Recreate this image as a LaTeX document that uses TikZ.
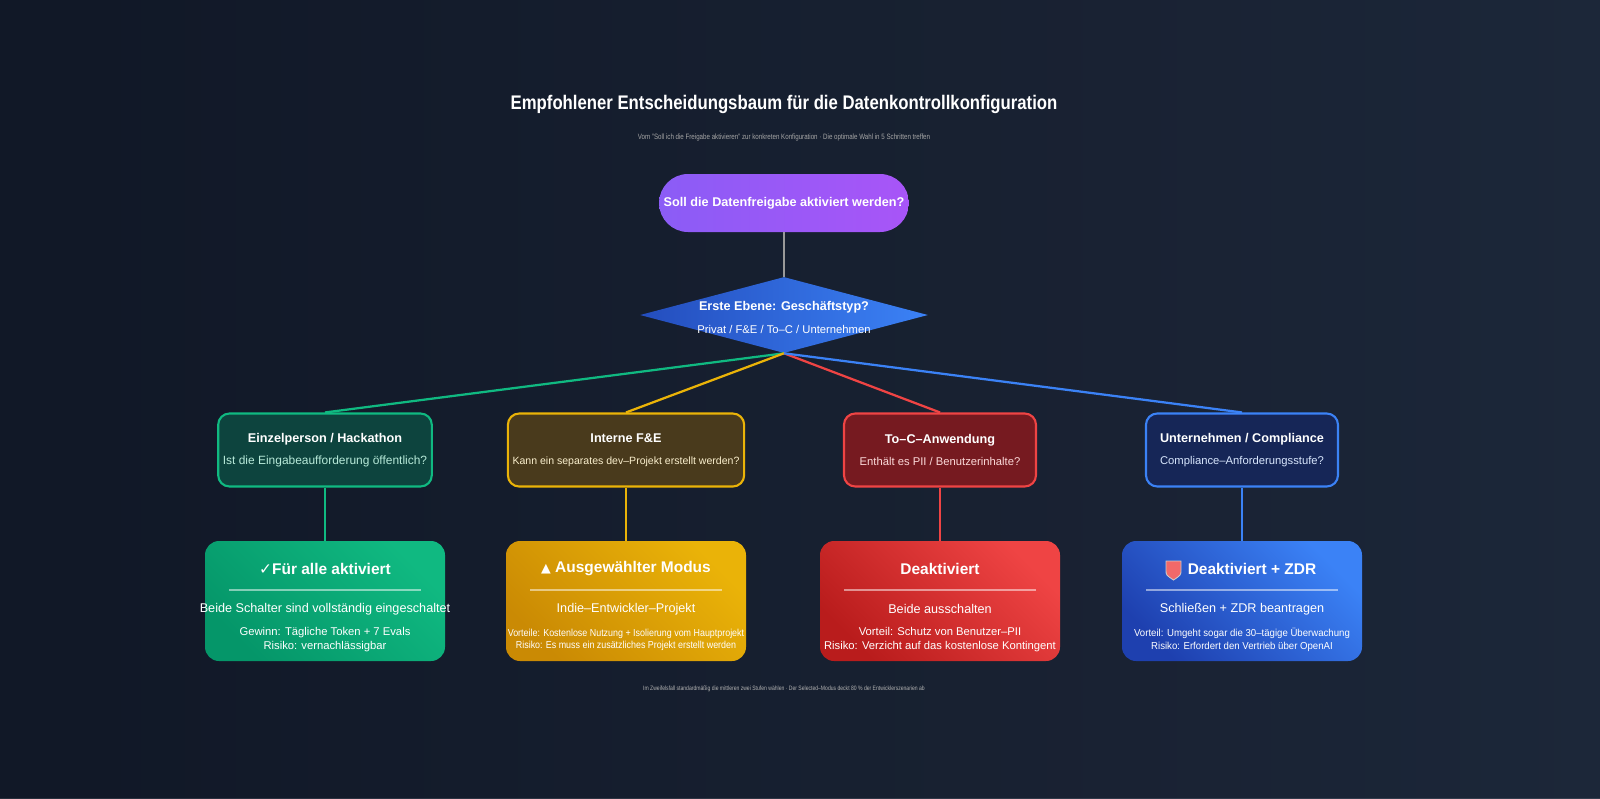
\documentclass[tikz,border=0pt]{standalone}
\usepackage{fontspec}
\setmainfont{Liberation Sans}
\newfontfamily\symfont{DejaVu Sans}
\usetikzlibrary{positioning,shapes.geometric}
\definecolor{bgA}{HTML}{111827}
\definecolor{bgB}{HTML}{1E293B}
\definecolor{greenE}{HTML}{10B981}
\definecolor{greenD}{HTML}{059669}
\definecolor{yellowE}{HTML}{EAB308}
\definecolor{yellowD}{HTML}{CA8A04}
\definecolor{redE}{HTML}{EF4444}
\definecolor{redD}{HTML}{B91C1C}
\definecolor{blueE}{HTML}{3B82F6}
\definecolor{blueD}{HTML}{1E40AF}
\definecolor{purpleA}{HTML}{8B5CF6}
\definecolor{purpleB}{HTML}{A855F7}
\tikzset{
    question/.style={draw, line width=1.5pt, rounded corners=8pt, minimum width=192*0.025cm,
        minimum height=73*0.025cm, align=center, text=white, font=\fontsize{9}{13}\selectfont},
    result/.style={rounded corners=10pt, minimum width=240*0.025cm, minimum height=120*0.025cm},
    link/.style={line width=1.6pt},
    small/.style={text=white, font=\fontsize{7.2}{9}\selectfont}
}
\begin{document}
\begin{tikzpicture}[x=0.025cm,y=-0.025cm]
\path[use as bounding box] (0,0) rectangle (1600,798);
\fill[bgA] (0,0) rectangle (1600,798);
\shade[left color=bgA, right color=bgB, opacity=0.9] (0,0) rectangle (1600,798);
% heading
\node[text=white, font=\bfseries\fontsize{14}{16}\selectfont, xscale=0.85] (title) at (784,104)
    {Empfohlener Entscheidungsbaum für die Datenkontrollkonfiguration};
\node[text=gray!70, font=\fontsize{5.5}{6}\selectfont, xscale=0.8] (sub) at (784,137)
    {Vom "Soll ich die Freigabe aktivieren" zur konkreten Konfiguration · Die optimale Wahl in 5 Schritten treffen};
% start and first level
\node[rounded corners=29*0.025cm, minimum width=240*0.025cm, minimum height=58*0.025cm,
    left color=purpleA, right color=purpleB, text=white, font=\bfseries\fontsize{9}{11}\selectfont]
    (start) at (784,203) {Soll die Datenfreigabe aktiviert werden?};
\node[diamond, aspect=3.8, minimum width=288*0.025cm, minimum height=76*0.025cm, inner sep=0pt,
    left color=blueD!80!blueE, right color=blueE, align=center, text=white] (type) at (784,315) {};
\node[text=white, font=\bfseries\fontsize{9}{11}\selectfont] (typeA) at (784,307) {Erste Ebene: Geschäftstyp?};
\node[text=white, font=\fontsize{8}{10}\selectfont] (typeB) at (784,329) {Privat / F\&E / To–C / Unternehmen};
\draw[link, gray!80] (start.south) -- (type.north);
% second level
\node[question, draw=greenE, fill=greenD!35!bgA] (solo) at (325,450)
    {\textbf{Einzelperson / Hackathon}\\[3pt]{\color{greenE!30}\fontsize{8.5}{9}\selectfont Ist die Eingabeaufforderung öffentlich?}};
\node[question, draw=yellowE, fill=yellowD!30!bgA] (lab) at (626,450)
    {\textbf{Interne F\&E}\\[3pt]{\color{yellowE!20}\fontsize{7.5}{9}\selectfont Kann ein separates dev–Projekt erstellt werden?}};
\node[question, draw=redE, fill=redD!60!bgA] (toc) at (940,450)
    {\textbf{To–C–Anwendung}\\[3pt]{\color{redE!20}\fontsize{8}{9}\selectfont Enthält es PII / Benutzerinhalte?}};
\node[question, draw=blueE, fill=blueD!35!bgA] (corp) at (1242,450)
    {\textbf{Unternehmen / Compliance}\\[3pt]{\color{blueE!20}\fontsize{8}{9}\selectfont Compliance–Anforderungsstufe?}};
\draw[link, greenE] (type.south) -- (solo.north);
\draw[link, yellowE] (type.south) -- (lab.north);
\draw[link, redE] (type.south) -- (toc.north);
\draw[link, blueE] (type.south) -- (corp.north);
% results
\foreach \n/\x/\c/\d in {allon/325/greenE/greenD, mode/626/yellowE/yellowD, off/940/redE/redD, zdr/1242/blueE/blueD}{
    \node[result, bottom color=\c, top color=\d, shading angle=135] (\n) at (\x,601) {};
    \draw[white!40, opacity=0.5, line width=0.8pt] (\x-96,590) -- (\x+96,590);
}
\draw[link, greenE] (solo.south) -- (allon.north);
\draw[link, yellowE] (lab.south) -- (mode.north);
\draw[link, redE] (toc.south) -- (off.north);
\draw[link, blueE] (corp.south) -- (zdr.north);
\node[text=white, font=\bfseries\fontsize{11}{13}\selectfont] (allonT) at (325,569) {{\symfont ✓}Für alle aktiviert};
\node[text=white, font=\bfseries\fontsize{11}{13}\selectfont] (modeT) at (626,569) {{\symfont\fontsize{9}{11}\selectfont ▲} Ausgewählter Modus};
\node[text=white, font=\bfseries\fontsize{11}{13}\selectfont] (offT) at (940,569) {Deaktiviert};
\node[text=white, font=\bfseries\fontsize{11}{13}\selectfont] (zdrT) at (1252,569) {Deaktiviert + ZDR};
\fill[redE!80!white, draw=gray!40, line width=0.6pt] (1166,561) -- (1181,561) -- (1181,570) .. controls (1181,575) .. (1173.5,580) .. controls (1166,575) .. (1166,570) -- cycle;
\node[text=white, font=\fontsize{9}{11}\selectfont] (allonA) at (325,609) {Beide Schalter sind vollständig eingeschaltet};
\node[text=white, font=\fontsize{9}{11}\selectfont] (modeA) at (626,609) {Indie–Entwickler–Projekt};
\node[text=white, font=\fontsize{9}{11}\selectfont] (offA) at (940,609) {Beide ausschalten};
\node[text=white, font=\fontsize{9}{11}\selectfont] (zdrA) at (1242,609) {Schließen + ZDR beantragen};
\node[small, font=\fontsize{8}{10}\selectfont, align=center] (allonB) at (325,640) {Gewinn: Tägliche Token + 7 Evals\\Risiko: vernachlässigbar};
\node[small, align=center, xscale=0.88] (modeB) at (626,640) {Vorteile: Kostenlose Nutzung + Isolierung vom Hauptprojekt\\Risiko: Es muss ein zusätzliches Projekt erstellt werden};
\node[small, font=\fontsize{8}{10}\selectfont, align=center] (offB) at (940,640) {Vorteil: Schutz von Benutzer–PII\\Risiko: Verzicht auf das kostenlose Kontingent};
\node[small, align=center, xscale=0.95] (zdrB) at (1242,640) {Vorteil: Umgeht sogar die 30–tägige Überwachung\\Risiko: Erfordert den Vertrieb über OpenAI};
% footer
\node[text=gray!60, font=\fontsize{4.5}{5}\selectfont, xscale=0.8] (foot) at (784,689)
    {Im Zweifelsfall standardmäßig die mittleren zwei Stufen wählen · Der Selected–Modus deckt 80 \% der Entwicklerszenarien ab};
\end{tikzpicture}
\end{document}
